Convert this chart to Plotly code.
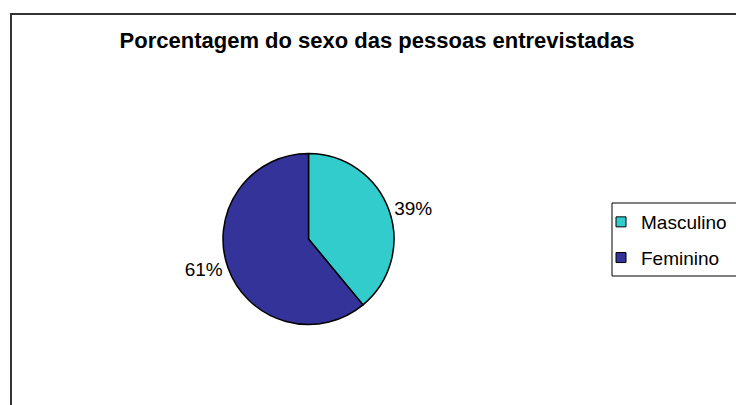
import plotly.graph_objects as go

# Survey respondents by sex
categories = ["Masculino", "Feminino"]
values = [39, 61]
colors = ["#33CCCC", "#333399"]

W, H = 736, 405
FONT = "Liberation Sans, Arial, sans-serif"


def px(x):
    return x / W


def py(y):
    return 1 - y / H


fig = go.Figure()
fig.add_trace(go.Pie(
    labels=categories,
    values=values,
    sort=False,
    direction="clockwise",
    rotation=0,
    marker=dict(colors=colors, line=dict(color="#000000", width=1.5)),
    textinfo="percent",
    texttemplate="%{percent:.0%}",
    textposition="outside",
    textfont=dict(family=FONT, size=19, color="#000000"),
    domain=dict(x=[px(223), px(394)], y=[py(324.5), py(153.5)]),
    hoverinfo="label+percent",
    showlegend=False,
))

# Legend entries, one group per category so the rows can be spaced apart
for name, color in zip(categories, colors):
    fig.add_trace(go.Scatter(
        x=[None], y=[None],
        mode="markers",
        name=name,
        legendgroup=name,
        marker=dict(symbol="square", size=10, color=color,
                    line=dict(color="#000000", width=1)),
        hoverinfo="skip",
    ))

fig.update_layout(
    width=W,
    height=H,
    margin=dict(l=0, r=0, t=0, b=0),
    paper_bgcolor="#FFFFFF",
    plot_bgcolor="#FFFFFF",
    font=dict(family=FONT, color="#000000"),
    xaxis=dict(visible=False),
    yaxis=dict(visible=False),
    title=dict(
        text="<b>Porcentagem do sexo das pessoas entrevistadas</b>",
        font=dict(size=22, family=FONT, color="#000000"),
        x=px(377), xanchor="center",
        y=py(40), yanchor="middle",
    ),
    showlegend=True,
    legend=dict(
        x=px(601), y=py(203),
        xanchor="left", yanchor="top",
        borderwidth=0,
        bgcolor="rgba(0,0,0,0)",
        tracegroupgap=8,
        font=dict(size=19, family=FONT, color="#000000"),
    ),
    shapes=[
        # chart frame
        dict(type="rect", xref="paper", yref="paper",
             x0=px(11), x1=1.02, y0=-0.02, y1=py(14),
             line=dict(color="#333333", width=2),
             fillcolor="rgba(0,0,0,0)", layer="below"),
        # legend frame
        dict(type="rect", xref="paper", yref="paper",
             x0=px(612), x1=1.02, y0=py(276), y1=py(203),
             line=dict(color="#000000", width=1),
             fillcolor="rgba(0,0,0,0)", layer="below"),
    ],
)

fig.write_html("out.html")
